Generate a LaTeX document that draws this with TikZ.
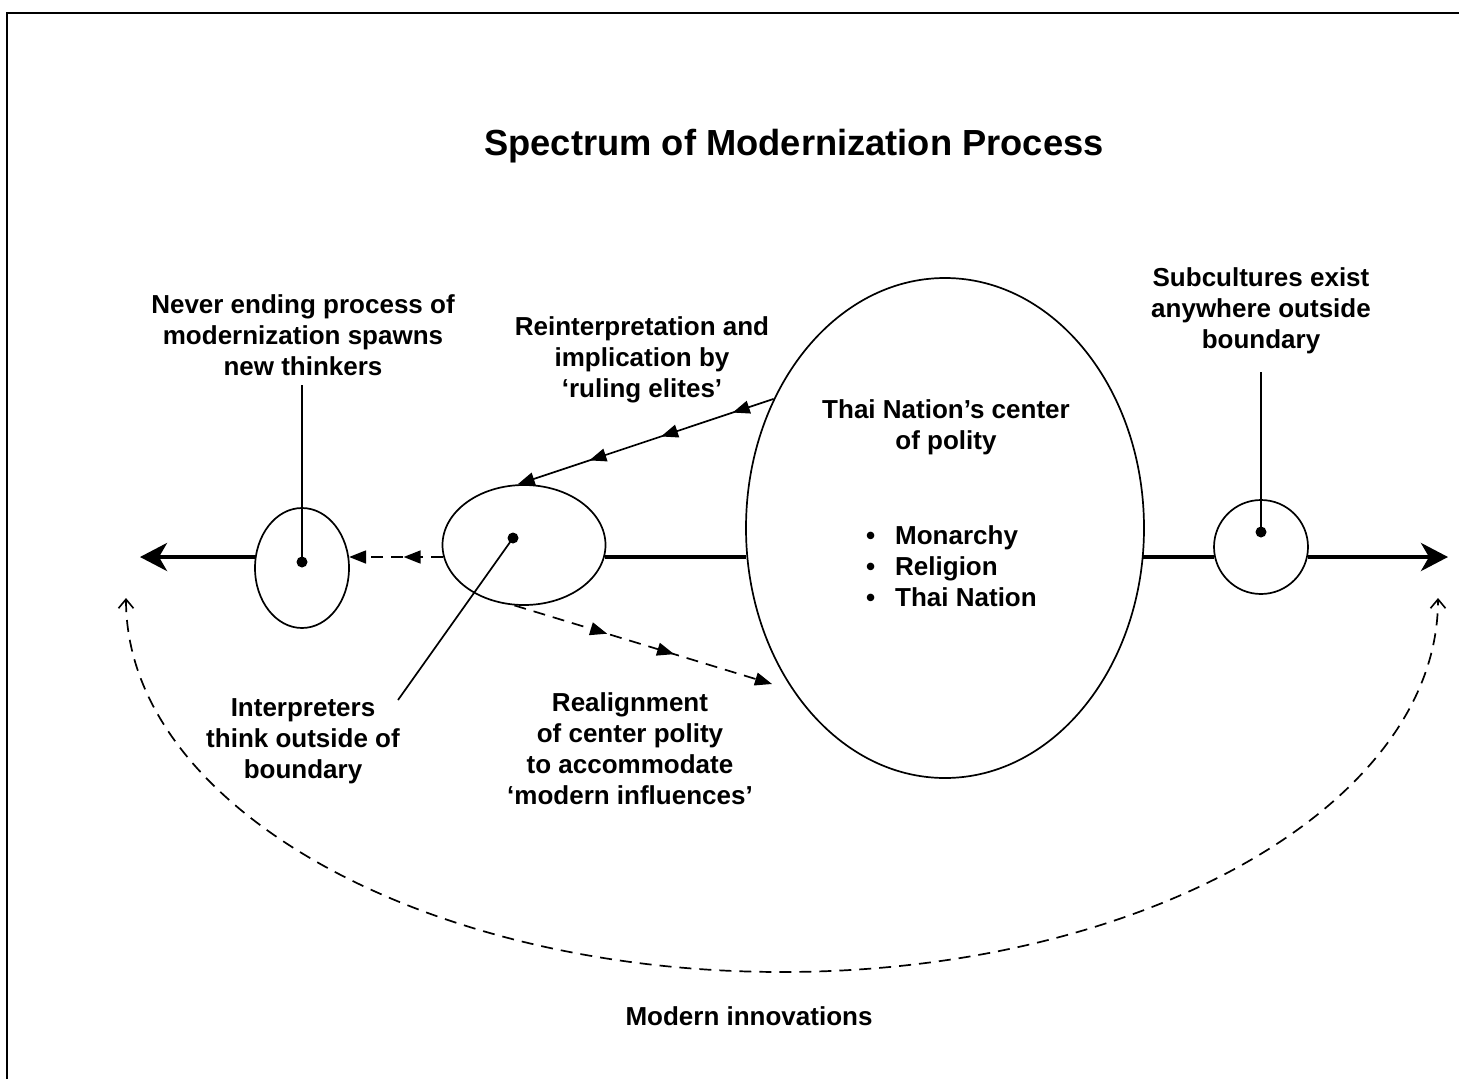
\documentclass[tikz,border=0pt]{standalone}
\usepackage{fontspec}
\setmainfont{Liberation Sans}
\usetikzlibrary{arrows.meta,shapes.geometric,decorations.markings}
\tikzset{
  tri/.tip={Triangle[length=17pt,width=13pt]},
  bigtip/.tip={Stealth[length=27pt,width=28pt,inset=8pt]},
  barb/.tip={Straight Barb[length=9pt,width=15pt,line width=1.6pt]}
}
\begin{document}
\begin{tikzpicture}[x=1pt,y=-1pt,
  lbl/.style={font=\bfseries\fontsize{26}{31}\selectfont, align=center, inner sep=0pt},
  ell/.style={draw, line width=1.7pt, ellipse, inner sep=0pt},
  axisline/.style={line width=4pt},
  dotc/.style={circle, fill, inner sep=0pt, minimum size=11pt},
  thin/.style={line width=1.7pt},
  dsh/.style={line width=1.7pt, dash pattern=on 12pt off 8pt}
]
\useasboundingbox (0,0) rectangle (1459,1079);
% frame
\draw[line width=1.5pt] (7,1079) -- (7,13) -- (1459,13);

% title
\node[font=\bfseries\fontsize{36.3}{40}\selectfont, inner sep=0pt] (title) at (794,146) {Spectrum of Modernization Process};

% ellipses
\node[ell, minimum width=94pt, minimum height=120pt] (L) at (302,568) {};
\node[ell, minimum width=163pt, minimum height=120pt] (M) at (524,545) {};
\node[ell, minimum width=398pt, minimum height=500pt] (B) at (945,528) {};
\node[draw, line width=1.7pt, circle, inner sep=0pt, minimum size=94pt] (R) at (1261,547) {};

% dots
\node[dotc] (Ld) at (302,562) {};
\node[dotc] (Md) at (513,538) {};
\node[dotc] (Rd) at (1261,532) {};

% free ends
\coordinate (tipL) at (140,557);
\coordinate (tipR) at (1448,557);
\coordinate (neverTop) at (302,385);
\coordinate (subTop) at (1261,372);
\coordinate (intEnd) at (398,700);
\coordinate (realEnd) at (772,684);
\coordinate (cL) at (126,598);

% main axis
\draw[axisline, -{bigtip}] (L.166.6 |- tipL) -- (tipL);
\draw[axisline] (M.351.5 |- tipL) -- (B.188.3 |- tipL);
\draw[axisline] (B.351.7 |- tipL) -- (R.192.3 |- tipL);
\draw[axisline, -{bigtip}] (R.347.7 |- tipL) -- (tipR);

% dashed between M and L
\draw[dsh, -{tri},
  postaction={decorate, decoration={markings, mark=at position 0.42 with {\arrow{tri}}}}]
  (M.188.5 |- tipL) -- (L.13.4 |- tipL);

% solid from B to M with arrowheads
\draw[thin, -{tri},
  postaction={decorate, decoration={markings,
     mark=at position 0.16 with {\arrow{tri}},
     mark=at position 0.44 with {\arrow{tri}},
     mark=at position 0.72 with {\arrow{tri}}}}]
  (B.143.4) -- (M.96);

% dashed from M toward B
\draw[dsh, -{tri},
  postaction={decorate, decoration={markings,
     mark=at position 0.36 with {\arrow{tri}},
     mark=at position 0.62 with {\arrow{tri}}}}]
  (M.261) -- (realEnd);

% pointer lines
\draw[thin] (neverTop) -- (Ld.center);
\draw[thin] (subTop) -- (Rd.center);
\draw[thin] (Md.center) -- (intEnd);

% dashed return curve
\draw[dsh, {barb}-{barb}] (cL) arc[start angle=180, end angle=0, x radius=656, y radius=374];

% labels
\node[lbl] (never) at (303,335) {Never ending process of\\modernization spawns\\new thinkers};
\node[lbl] (reint) at (642,360) {Reinterpretation and\\implication by\\‘ruling elites’};
\node[lbl] (sub) at (1261,311) {Subcultures exist\\anywhere outside\\boundary};
\node[lbl] (thai) at (946,427) {Thai Nation’s center\\of polity};
\node[lbl, align=left, anchor=west] (list) at (866,566) {\makebox[29pt][l]{•}Monarchy\\\makebox[29pt][l]{•}Religion\\\makebox[29pt][l]{•}Thai Nation};
\node[lbl] (interp) at (303,741) {Interpreters\\think outside of\\boundary};
\node[lbl] (realign) at (630,749) {Realignment\\of center polity\\to accommodate\\‘modern influences’};
\node[font=\bfseries\fontsize{26}{30}\selectfont, inner sep=0pt] (innov) at (749,1016) {Modern innovations};
\end{tikzpicture}
\end{document}
